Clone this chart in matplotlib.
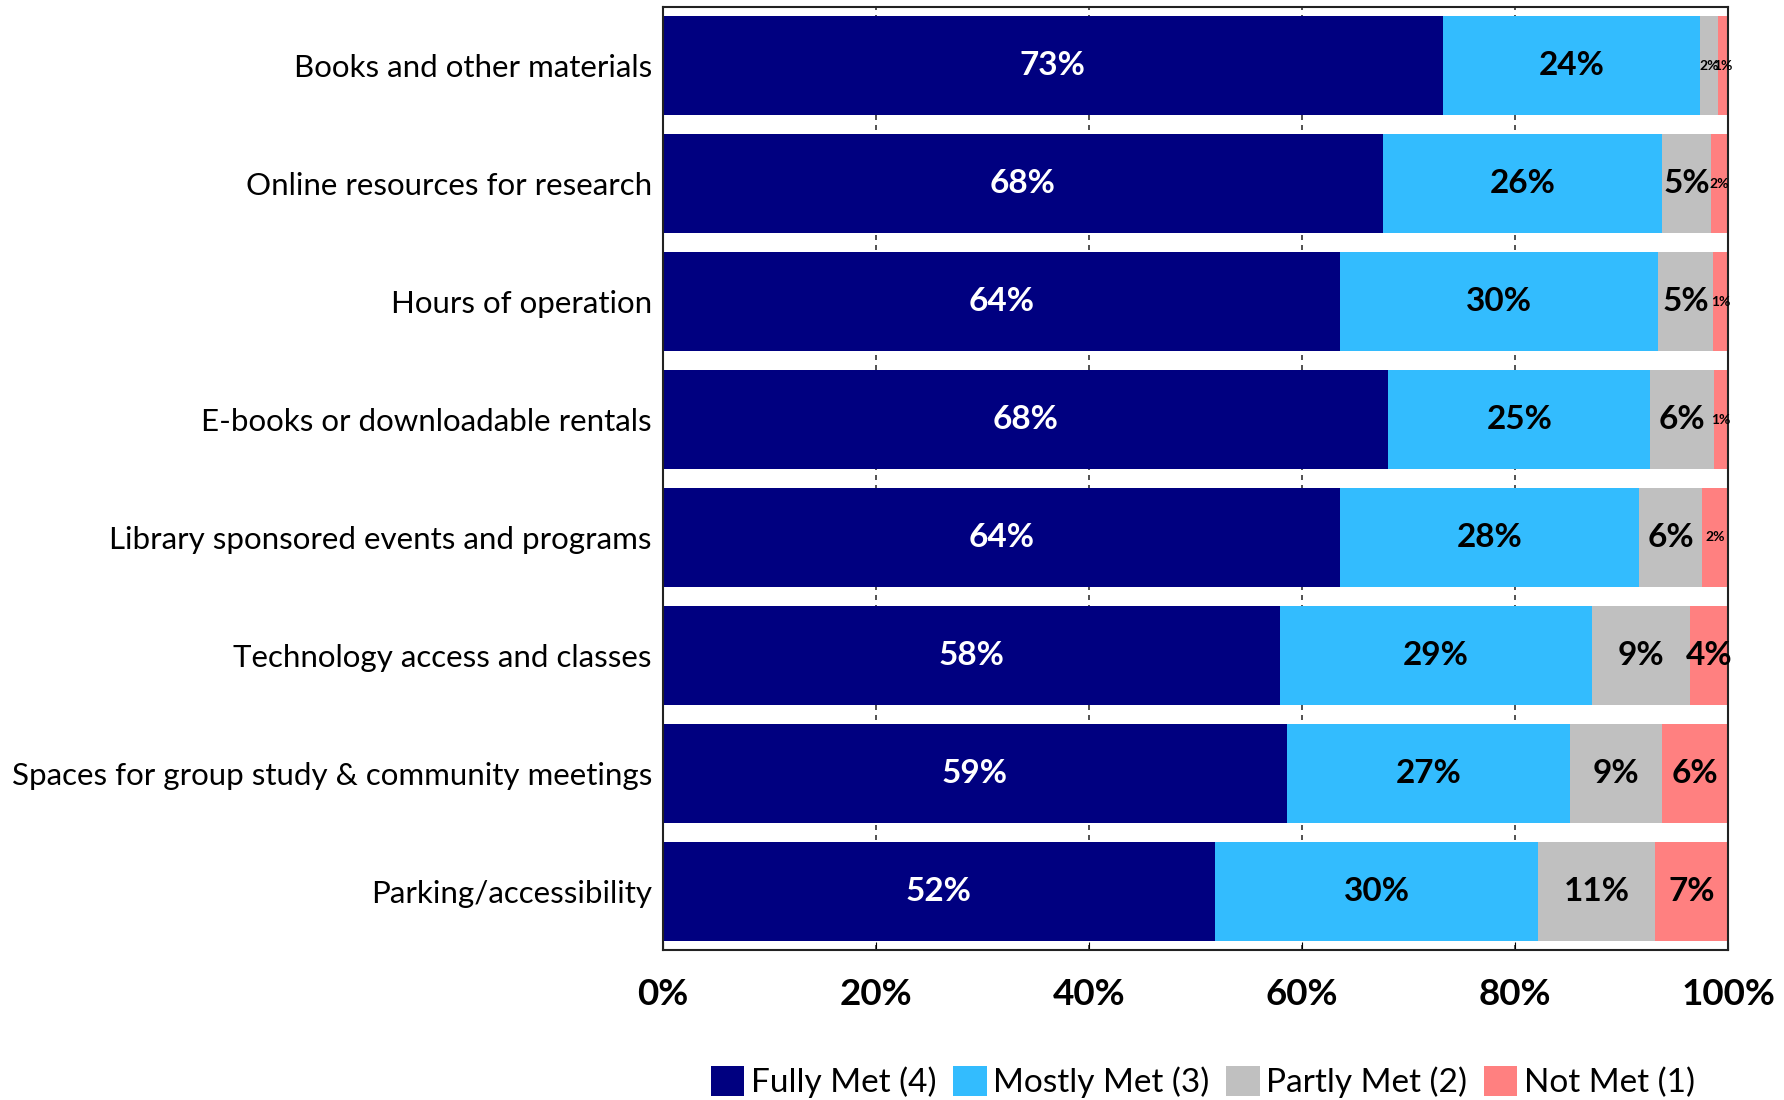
import matplotlib

matplotlib.use("Agg")
import matplotlib.pyplot as plt
from matplotlib.ticker import FuncFormatter

plt.rcParams["font.family"] = ["Lato", "DejaVu Sans"]

# survey items, top to bottom
categories = [
    "Books and other materials",
    "Online resources for research",
    "Hours of operation",
    "E-books or downloadable rentals",
    "Library sponsored events and programs",
    "Technology access and classes",
    "Spaces for group study & community meetings",
    "Parking/accessibility",
]

# share of respondents (%) per rating
fully_met = [73.2, 67.6, 63.6, 68.1, 63.6, 57.9, 58.6, 51.8]
mostly_met = [24.2, 26.2, 29.8, 24.6, 28.0, 29.3, 26.6, 30.4]
partly_met = [1.7, 4.6, 5.2, 6.0, 6.0, 9.2, 8.6, 10.9]
not_met = [0.9, 1.6, 1.4, 1.3, 2.4, 3.6, 6.2, 6.9]

series = [
    ("Fully Met (4)", fully_met, "#000080", "white"),
    ("Mostly Met (3)", mostly_met, "#33BCFE", "black"),
    ("Partly Met (2)", partly_met, "#C0C0C0", "black"),
    ("Not Met (1)", not_met, "#FF8080", "black"),
]

x_ticks = [0, 20, 40, 60, 80, 100]

fig = plt.figure(figsize=(17.84, 11.0), dpi=100)
ax = fig.add_axes([663 / 1784, 1 - 950 / 1100, (1728 - 663) / 1784, (950 - 7) / 1100])

y = list(range(len(categories)))
left = [0.0] * len(categories)
for name, values, color, text_color in series:
    bars = ax.barh(y, values, left=left, height=0.84, color=color, label=name, zorder=2)
    for bar, val, start in zip(bars, values, left):
        # thin segments get a much smaller label
        small = val < 3
        ax.text(
            start + val / 2,
            bar.get_y() + bar.get_height() / 2,
            f"{val:.0f}%",
            ha="center",
            va="center",
            color=text_color,
            fontsize=10 if small else 24,
            fontweight="bold",
            zorder=3,
        )
    left = [a + b for a, b in zip(left, values)]

ax.set_xlim(0, 100)
ax.set_ylim(len(categories) - 0.5, -0.5)
ax.set_yticks(y)
ax.set_yticklabels(categories, fontsize=22.5)
ax.tick_params(axis="y", length=0, pad=8)
ax.set_xticks(x_ticks)
ax.xaxis.set_major_formatter(FuncFormatter(lambda v, _: f"{v:.0f}%"))
ax.tick_params(axis="x", direction="in", length=6, pad=20, labelsize=26.5)
for lbl in ax.get_xticklabels():
    lbl.set_fontweight("bold")
ax.grid(axis="x", color="#333333", linestyle=(0, (3, 3)), linewidth=1.2, zorder=1)
ax.set_axisbelow(True)
for spine in ax.spines.values():
    spine.set_color("#222222")
    spine.set_linewidth(1.5)

ax.legend(
    loc="center",
    bbox_to_anchor=(1203 / 1784, 1 - 1082 / 1100),
    bbox_transform=fig.transFigure,
    ncol=4,
    frameon=False,
    fontsize=24,
    handlelength=1.0,
    handleheight=1.0,
    handletextpad=0.2,
    columnspacing=0.5,
)

fig.savefig("out.png", dpi=100)
